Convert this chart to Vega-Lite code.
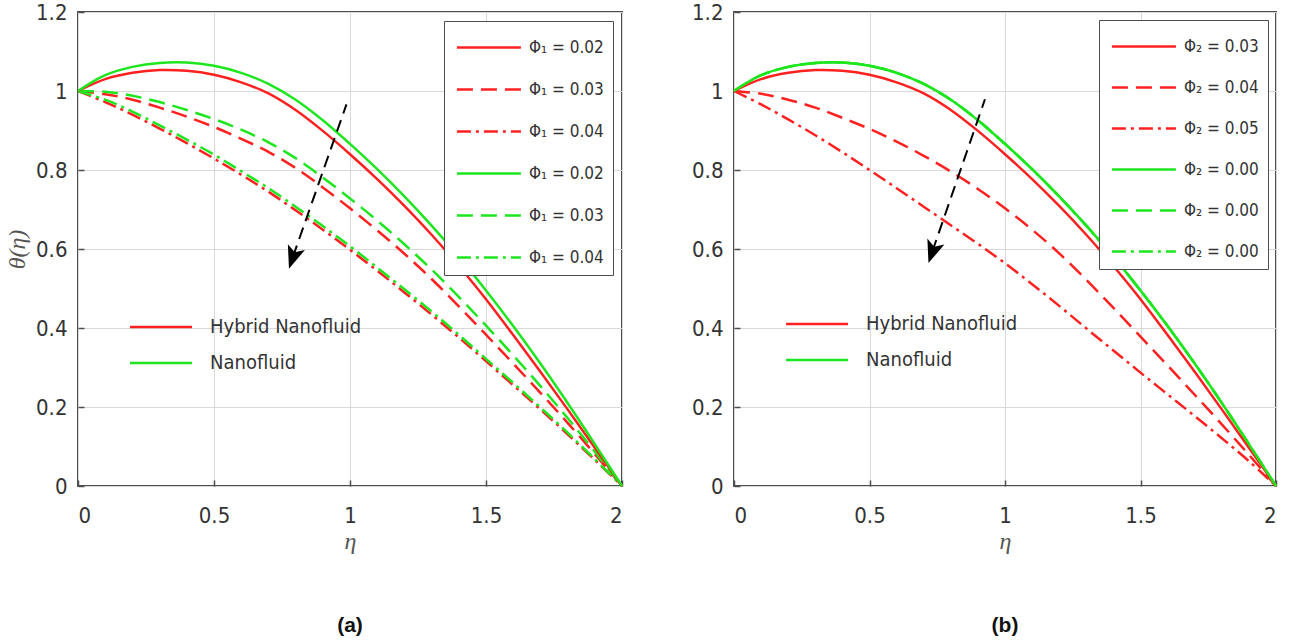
{
  "$schema": "https://vega.github.io/schema/vega-lite/v6.json",
  "background": "white",
  "padding": {"left": 4, "top": 0, "right": 5, "bottom": 0},
  "spacing": 62,
  "config": {
    "view": {"stroke": "#4d4d4d", "strokeWidth": 2},
    "axis": {
      "labelFont": "DejaVu Sans Condensed, Liberation Sans",
      "labelFontSize": 22,
      "labelColor": "#333333",
      "grid": true,
      "gridColor": "#d9d9d9",
      "gridWidth": 1,
      "domain": false,
      "ticks": true,
      "tickSize": -6,
      "tickColor": "#4d4d4d",
      "tickWidth": 1.5,
      "titleFont": "Liberation Serif",
      "titleFontStyle": "italic",
      "titleFontWeight": "normal",
      "titleFontSize": 24,
      "titleColor": "#555555"
    },
    "axisX": {"labelPadding": 25, "titlePadding": 3},
    "axisY": {"labelPadding": 17, "titlePadding": 6},
    "title": {"font": "Liberation Sans", "fontWeight": "bold", "fontSize": 21, "color": "#111111"}
  },
  "resolve": {"scale": {"stroke": "independent", "strokeDash": "independent", "color": "independent"}},
  "datasets": {
    "A": [
      {"s":"a1","x":0,"y":1.0},{"s":"a1","x":0.1,"y":1.03},{"s":"a1","x":0.2,"y":1.046},{"s":"a1","x":0.3,"y":1.053},{"s":"a1","x":0.4,"y":1.051},{"s":"a1","x":0.5,"y":1.041},{"s":"a1","x":0.6,"y":1.022},{"s":"a1","x":0.7,"y":0.994},{"s":"a1","x":0.8,"y":0.952},{"s":"a1","x":0.9,"y":0.899},{"s":"a1","x":1.0,"y":0.84},{"s":"a1","x":1.1,"y":0.777},{"s":"a1","x":1.2,"y":0.709},{"s":"a1","x":1.3,"y":0.636},{"s":"a1","x":1.4,"y":0.557},{"s":"a1","x":1.5,"y":0.473},{"s":"a1","x":1.6,"y":0.382},{"s":"a1","x":1.7,"y":0.289},{"s":"a1","x":1.8,"y":0.194},{"s":"a1","x":1.9,"y":0.097},{"s":"a1","x":2.0,"y":0},
      {"s":"a2","x":0,"y":1.0},{"s":"a2","x":0.1,"y":0.992},{"s":"a2","x":0.2,"y":0.978},{"s":"a2","x":0.3,"y":0.958},{"s":"a2","x":0.4,"y":0.935},{"s":"a2","x":0.5,"y":0.909},{"s":"a2","x":0.6,"y":0.879},{"s":"a2","x":0.7,"y":0.846},{"s":"a2","x":0.8,"y":0.805},{"s":"a2","x":0.9,"y":0.756},{"s":"a2","x":1.0,"y":0.703},{"s":"a2","x":1.1,"y":0.647},{"s":"a2","x":1.2,"y":0.588},{"s":"a2","x":1.3,"y":0.524},{"s":"a2","x":1.4,"y":0.455},{"s":"a2","x":1.5,"y":0.383},{"s":"a2","x":1.6,"y":0.31},{"s":"a2","x":1.7,"y":0.236},{"s":"a2","x":1.8,"y":0.16},{"s":"a2","x":1.9,"y":0.081},{"s":"a2","x":2.0,"y":0},
      {"s":"a3","x":0,"y":1.0},{"s":"a3","x":0.1,"y":0.972},{"s":"a3","x":0.2,"y":0.94},{"s":"a3","x":0.3,"y":0.905},{"s":"a3","x":0.4,"y":0.868},{"s":"a3","x":0.5,"y":0.829},{"s":"a3","x":0.6,"y":0.788},{"s":"a3","x":0.7,"y":0.745},{"s":"a3","x":0.8,"y":0.698},{"s":"a3","x":0.9,"y":0.649},{"s":"a3","x":1.0,"y":0.598},{"s":"a3","x":1.1,"y":0.545},{"s":"a3","x":1.2,"y":0.49},{"s":"a3","x":1.3,"y":0.434},{"s":"a3","x":1.4,"y":0.376},{"s":"a3","x":1.5,"y":0.316},{"s":"a3","x":1.6,"y":0.255},{"s":"a3","x":1.7,"y":0.194},{"s":"a3","x":1.8,"y":0.131},{"s":"a3","x":1.9,"y":0.066},{"s":"a3","x":2.0,"y":0},
      {"s":"a4","x":0,"y":1.0},{"s":"a4","x":0.1,"y":1.04},{"s":"a4","x":0.2,"y":1.061},{"s":"a4","x":0.3,"y":1.071},{"s":"a4","x":0.4,"y":1.072},{"s":"a4","x":0.5,"y":1.064},{"s":"a4","x":0.6,"y":1.046},{"s":"a4","x":0.7,"y":1.018},{"s":"a4","x":0.8,"y":0.978},{"s":"a4","x":0.9,"y":0.926},{"s":"a4","x":1.0,"y":0.866},{"s":"a4","x":1.1,"y":0.802},{"s":"a4","x":1.2,"y":0.733},{"s":"a4","x":1.3,"y":0.659},{"s":"a4","x":1.4,"y":0.58},{"s":"a4","x":1.5,"y":0.495},{"s":"a4","x":1.6,"y":0.405},{"s":"a4","x":1.7,"y":0.31},{"s":"a4","x":1.8,"y":0.21},{"s":"a4","x":1.9,"y":0.106},{"s":"a4","x":2.0,"y":0},
      {"s":"a5","x":0,"y":1.0},{"s":"a5","x":0.1,"y":0.998},{"s":"a5","x":0.2,"y":0.988},{"s":"a5","x":0.3,"y":0.972},{"s":"a5","x":0.4,"y":0.952},{"s":"a5","x":0.5,"y":0.929},{"s":"a5","x":0.6,"y":0.902},{"s":"a5","x":0.7,"y":0.87},{"s":"a5","x":0.8,"y":0.83},{"s":"a5","x":0.9,"y":0.781},{"s":"a5","x":1.0,"y":0.728},{"s":"a5","x":1.1,"y":0.672},{"s":"a5","x":1.2,"y":0.612},{"s":"a5","x":1.3,"y":0.548},{"s":"a5","x":1.4,"y":0.479},{"s":"a5","x":1.5,"y":0.406},{"s":"a5","x":1.6,"y":0.331},{"s":"a5","x":1.7,"y":0.253},{"s":"a5","x":1.8,"y":0.172},{"s":"a5","x":1.9,"y":0.087},{"s":"a5","x":2.0,"y":0},
      {"s":"a6","x":0,"y":1.0},{"s":"a6","x":0.1,"y":0.978},{"s":"a6","x":0.2,"y":0.948},{"s":"a6","x":0.3,"y":0.913},{"s":"a6","x":0.4,"y":0.877},{"s":"a6","x":0.5,"y":0.839},{"s":"a6","x":0.6,"y":0.797},{"s":"a6","x":0.7,"y":0.754},{"s":"a6","x":0.8,"y":0.707},{"s":"a6","x":0.9,"y":0.658},{"s":"a6","x":1.0,"y":0.607},{"s":"a6","x":1.1,"y":0.553},{"s":"a6","x":1.2,"y":0.498},{"s":"a6","x":1.3,"y":0.442},{"s":"a6","x":1.4,"y":0.383},{"s":"a6","x":1.5,"y":0.322},{"s":"a6","x":1.6,"y":0.261},{"s":"a6","x":1.7,"y":0.199},{"s":"a6","x":1.8,"y":0.135},{"s":"a6","x":1.9,"y":0.068},{"s":"a6","x":2.0,"y":0}
    ],
    "B": [
      {"s":"b1","x":0,"y":1.0},{"s":"b1","x":0.1,"y":1.03},{"s":"b1","x":0.2,"y":1.046},{"s":"b1","x":0.3,"y":1.053},{"s":"b1","x":0.4,"y":1.051},{"s":"b1","x":0.5,"y":1.041},{"s":"b1","x":0.6,"y":1.022},{"s":"b1","x":0.7,"y":0.994},{"s":"b1","x":0.8,"y":0.952},{"s":"b1","x":0.9,"y":0.899},{"s":"b1","x":1.0,"y":0.84},{"s":"b1","x":1.1,"y":0.777},{"s":"b1","x":1.2,"y":0.709},{"s":"b1","x":1.3,"y":0.636},{"s":"b1","x":1.4,"y":0.557},{"s":"b1","x":1.5,"y":0.473},{"s":"b1","x":1.6,"y":0.382},{"s":"b1","x":1.7,"y":0.289},{"s":"b1","x":1.8,"y":0.194},{"s":"b1","x":1.9,"y":0.097},{"s":"b1","x":2.0,"y":0},
      {"s":"b2","x":0,"y":1.0},{"s":"b2","x":0.1,"y":0.993},{"s":"b2","x":0.2,"y":0.978},{"s":"b2","x":0.3,"y":0.958},{"s":"b2","x":0.4,"y":0.932},{"s":"b2","x":0.5,"y":0.904},{"s":"b2","x":0.6,"y":0.872},{"s":"b2","x":0.7,"y":0.836},{"s":"b2","x":0.8,"y":0.796},{"s":"b2","x":0.9,"y":0.752},{"s":"b2","x":1.0,"y":0.703},{"s":"b2","x":1.1,"y":0.649},{"s":"b2","x":1.2,"y":0.589},{"s":"b2","x":1.3,"y":0.522},{"s":"b2","x":1.4,"y":0.451},{"s":"b2","x":1.5,"y":0.378},{"s":"b2","x":1.6,"y":0.305},{"s":"b2","x":1.7,"y":0.231},{"s":"b2","x":1.8,"y":0.156},{"s":"b2","x":1.9,"y":0.079},{"s":"b2","x":2.0,"y":0},
      {"s":"b3","x":0,"y":1.0},{"s":"b3","x":0.1,"y":0.966},{"s":"b3","x":0.2,"y":0.928},{"s":"b3","x":0.3,"y":0.888},{"s":"b3","x":0.4,"y":0.845},{"s":"b3","x":0.5,"y":0.8},{"s":"b3","x":0.6,"y":0.754},{"s":"b3","x":0.7,"y":0.707},{"s":"b3","x":0.8,"y":0.66},{"s":"b3","x":0.9,"y":0.613},{"s":"b3","x":1.0,"y":0.564},{"s":"b3","x":1.1,"y":0.511},{"s":"b3","x":1.2,"y":0.456},{"s":"b3","x":1.3,"y":0.399},{"s":"b3","x":1.4,"y":0.343},{"s":"b3","x":1.5,"y":0.287},{"s":"b3","x":1.6,"y":0.232},{"s":"b3","x":1.7,"y":0.177},{"s":"b3","x":1.8,"y":0.121},{"s":"b3","x":1.9,"y":0.063},{"s":"b3","x":2.0,"y":0},
      {"s":"b4","x":0,"y":1.0},{"s":"b4","x":0.1,"y":1.04},{"s":"b4","x":0.2,"y":1.061},{"s":"b4","x":0.3,"y":1.071},{"s":"b4","x":0.4,"y":1.072},{"s":"b4","x":0.5,"y":1.064},{"s":"b4","x":0.6,"y":1.046},{"s":"b4","x":0.7,"y":1.018},{"s":"b4","x":0.8,"y":0.978},{"s":"b4","x":0.9,"y":0.926},{"s":"b4","x":1.0,"y":0.866},{"s":"b4","x":1.1,"y":0.802},{"s":"b4","x":1.2,"y":0.733},{"s":"b4","x":1.3,"y":0.659},{"s":"b4","x":1.4,"y":0.58},{"s":"b4","x":1.5,"y":0.495},{"s":"b4","x":1.6,"y":0.405},{"s":"b4","x":1.7,"y":0.31},{"s":"b4","x":1.8,"y":0.21},{"s":"b4","x":1.9,"y":0.106},{"s":"b4","x":2.0,"y":0},
      {"s":"b5","x":0,"y":1.0},{"s":"b5","x":0.1,"y":1.04},{"s":"b5","x":0.2,"y":1.061},{"s":"b5","x":0.3,"y":1.071},{"s":"b5","x":0.4,"y":1.072},{"s":"b5","x":0.5,"y":1.064},{"s":"b5","x":0.6,"y":1.046},{"s":"b5","x":0.7,"y":1.018},{"s":"b5","x":0.8,"y":0.978},{"s":"b5","x":0.9,"y":0.926},{"s":"b5","x":1.0,"y":0.866},{"s":"b5","x":1.1,"y":0.802},{"s":"b5","x":1.2,"y":0.733},{"s":"b5","x":1.3,"y":0.659},{"s":"b5","x":1.4,"y":0.58},{"s":"b5","x":1.5,"y":0.495},{"s":"b5","x":1.6,"y":0.405},{"s":"b5","x":1.7,"y":0.31},{"s":"b5","x":1.8,"y":0.21},{"s":"b5","x":1.9,"y":0.106},{"s":"b5","x":2.0,"y":0},
      {"s":"b6","x":0,"y":1.0},{"s":"b6","x":0.1,"y":1.04},{"s":"b6","x":0.2,"y":1.061},{"s":"b6","x":0.3,"y":1.071},{"s":"b6","x":0.4,"y":1.072},{"s":"b6","x":0.5,"y":1.064},{"s":"b6","x":0.6,"y":1.046},{"s":"b6","x":0.7,"y":1.018},{"s":"b6","x":0.8,"y":0.978},{"s":"b6","x":0.9,"y":0.926},{"s":"b6","x":1.0,"y":0.866},{"s":"b6","x":1.1,"y":0.802},{"s":"b6","x":1.2,"y":0.733},{"s":"b6","x":1.3,"y":0.659},{"s":"b6","x":1.4,"y":0.58},{"s":"b6","x":1.5,"y":0.495},{"s":"b6","x":1.6,"y":0.405},{"s":"b6","x":1.7,"y":0.31},{"s":"b6","x":1.8,"y":0.21},{"s":"b6","x":1.9,"y":0.106},{"s":"b6","x":2.0,"y":0}
    ],
    "arrowA": [{"x":0.987,"y":0.966},{"x":0.79,"y":0.58}],
    "headA": [{"x":0.79,"y":0.579}],
    "arrowB": [{"x":0.926,"y":0.979},{"x":0.732,"y":0.594}],
    "headB": [{"x":0.732,"y":0.593}]
  },
  "hconcat": [
    {
      "width": 544,
      "height": 474,
      "title": {"text": "(a)", "orient": "bottom", "anchor": "middle", "offset": 62},
      "encoding": {
        "x": {"field": "x", "type": "quantitative", "scale": {"domain": [0, 2], "nice": false}, "axis": {"values": [0, 0.5, 1, 1.5, 2], "format": "~g", "title": "η"}},
        "y": {"field": "y", "type": "quantitative", "scale": {"domain": [0, 1.2], "nice": false}, "axis": {"values": [0, 0.2, 0.4, 0.6, 0.8, 1, 1.2], "format": "~g", "title": "θ(η)"}}
      },
      "layer": [
        {
          "data": {"name": "A"},
          "transform": [{"filter": "datum.s != 'a1' && datum.s != 'a4'"}],
          "mark": {"type": "line", "strokeWidth": 2.5, "interpolate": "catmull-rom"},
          "encoding": {
            "stroke": {"field": "s", "type": "nominal",
              "scale": {"domain": ["a1","a2","a3","a4","a5","a6"], "range": ["#ff2020","#ff2020","#ff2020","#1ee61e","#1ee61e","#1ee61e"]},
              "legend": {"orient": "top-right", "offset": 9, "title": null, "symbolType": "M-0.85,0L3.15,0", "symbolSize": 1024, "symbolStrokeWidth": 2.5,
                "labelFont": "DejaVu Sans Condensed, Liberation Sans", "labelFontSize": 17, "labelColor": "#333333", "labelOffset": 41,
                "fillColor": "white", "strokeColor": "#4d4d4d", "padding": 9, "rowPadding": 16,
                "labelExpr": "{'a1':'Φ₁ = 0.02','a2':'Φ₁ = 0.03','a3':'Φ₁ = 0.04','a4':'Φ₁ = 0.02','a5':'Φ₁ = 0.03','a6':'Φ₁ = 0.04'}[datum.value]"}},
            "strokeDash": {"field": "s", "type": "nominal",
              "scale": {"domain": ["a1","a2","a3","a4","a5","a6"], "range": [[1,0],[16,8],[14,5,3,5],[1,0],[16,8],[14,5,3,5]]}}
          }
        },
        {
          "data": {"name": "A"},
          "transform": [{"filter": "datum.s == 'a1' || datum.s == 'a4'"}],
          "mark": {"type": "line", "strokeWidth": 2.5, "interpolate": "catmull-rom"},
          "encoding": {
            "color": {"field": "s", "type": "nominal",
              "scale": {"domain": ["a1","a4"], "range": ["#ff2020","#1ee61e"]},
              "legend": {"orient": "none", "legendX": 66, "legendY": 298, "title": null, "symbolType": "M-2,0L2,0", "symbolSize": 961, "symbolStrokeWidth": 2.5,
                "labelFont": "DejaVu Sans Condensed, Liberation Sans", "labelFontSize": 20, "labelColor": "#333333", "labelOffset": 32, "padding": 0, "rowPadding": 9,
                "labelExpr": "datum.value == 'a1' ? 'Hybrid Nanofluid' : 'Nanofluid'"}}
          }
        },
        {
          "data": {"name": "arrowA"},
          "mark": {"type": "line", "color": "black", "strokeWidth": 2, "strokeDash": [12, 7]},
          "encoding": {}
        },
        {
          "data": {"name": "headA"},
          "mark": {"type": "point", "shape": "M0,-1L0.75,0.9L0,0.45L-0.75,0.9Z", "angle": 199, "size": 576, "filled": true, "color": "black", "opacity": 1},
          "encoding": {}
        }
      ]
    },
    {
      "width": 542,
      "height": 474,
      "title": {"text": "(b)", "orient": "bottom", "anchor": "middle", "offset": 62},
      "encoding": {
        "x": {"field": "x", "type": "quantitative", "scale": {"domain": [0, 2], "nice": false}, "axis": {"values": [0, 0.5, 1, 1.5, 2], "format": "~g", "title": "η"}},
        "y": {"field": "y", "type": "quantitative", "scale": {"domain": [0, 1.2], "nice": false}, "axis": {"values": [0, 0.2, 0.4, 0.6, 0.8, 1, 1.2], "format": "~g", "title": null}}
      },
      "layer": [
        {
          "data": {"name": "B"},
          "transform": [{"filter": "datum.s != 'b1' && datum.s != 'b4'"}],
          "mark": {"type": "line", "strokeWidth": 2.5, "interpolate": "catmull-rom"},
          "encoding": {
            "stroke": {"field": "s", "type": "nominal",
              "scale": {"domain": ["b1","b2","b3","b4","b5","b6"], "range": ["#ff2020","#ff2020","#ff2020","#1ee61e","#1ee61e","#1ee61e"]},
              "legend": {"orient": "top-right", "offset": 8, "title": null, "symbolType": "M-0.85,0L3.15,0", "symbolSize": 1024, "symbolStrokeWidth": 2.5,
                "labelFont": "DejaVu Sans Condensed, Liberation Sans", "labelFontSize": 17, "labelColor": "#333333", "labelOffset": 41,
                "fillColor": "white", "strokeColor": "#4d4d4d", "padding": 9, "rowPadding": 15,
                "labelExpr": "{'b1':'Φ₂ = 0.03','b2':'Φ₂ = 0.04','b3':'Φ₂ = 0.05','b4':'Φ₂ = 0.00','b5':'Φ₂ = 0.00','b6':'Φ₂ = 0.00'}[datum.value]"}},
            "strokeDash": {"field": "s", "type": "nominal",
              "scale": {"domain": ["b1","b2","b3","b4","b5","b6"], "range": [[1,0],[16,8],[14,5,3,5],[1,0],[16,8],[14,5,3,5]]}}
          }
        },
        {
          "data": {"name": "B"},
          "transform": [{"filter": "datum.s == 'b1' || datum.s == 'b4'"}],
          "mark": {"type": "line", "strokeWidth": 2.5, "interpolate": "catmull-rom"},
          "encoding": {
            "color": {"field": "s", "type": "nominal",
              "scale": {"domain": ["b1","b4"], "range": ["#ff2020","#1ee61e"]},
              "legend": {"orient": "none", "legendX": 66, "legendY": 295, "title": null, "symbolType": "M-2,0L2,0", "symbolSize": 961, "symbolStrokeWidth": 2.5,
                "labelFont": "DejaVu Sans Condensed, Liberation Sans", "labelFontSize": 20, "labelColor": "#333333", "labelOffset": 32, "padding": 0, "rowPadding": 9,
                "labelExpr": "datum.value == 'b1' ? 'Hybrid Nanofluid' : 'Nanofluid'"}}
          }
        },
        {
          "data": {"name": "arrowB"},
          "mark": {"type": "line", "color": "black", "strokeWidth": 2, "strokeDash": [12, 7]},
          "encoding": {}
        },
        {
          "data": {"name": "headB"},
          "mark": {"type": "point", "shape": "M0,-1L0.75,0.9L0,0.45L-0.75,0.9Z", "angle": 199, "size": 576, "filled": true, "color": "black", "opacity": 1},
          "encoding": {}
        }
      ]
    }
  ]
}
